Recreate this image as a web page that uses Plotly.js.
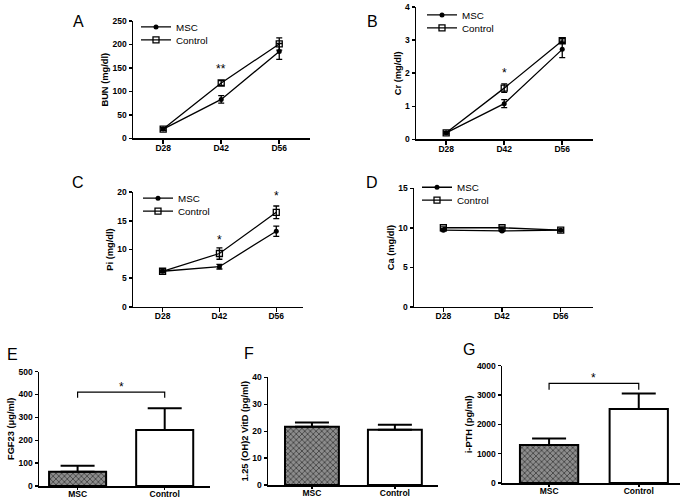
<!DOCTYPE html>
<html><head><meta charset="utf-8">
<script src="https://cdn.plot.ly/plotly-3.0.1.min.js"></script>
<style>html,body{margin:0;padding:0;background:#fff}#chart{width:685px;height:502px}</style>
</head><body><div id="chart"></div>
<script>
// ---- data ----
const days = ['D28', 'D42', 'D56'];
const groups = ['MSC', 'Control'];
// A: BUN
const bunMSC = [20, 83, 185], bunMSCErr = [3, 8, 17];
const bunCtl = [20, 118, 201], bunCtlErr = [3, 5, 13];
// B: Cr
const crMSC = [0.2, 1.08, 2.72], crMSCErr = [0.03, 0.12, 0.25];
const crCtl = [0.2, 1.55, 2.98], crCtlErr = [0.03, 0.13, 0.06];
// C: Pi
const piMSC = [6.2, 7.0, 13.2], piMSCErr = [0.2, 0.4, 0.9];
const piCtl = [6.2, 9.3, 16.5], piCtlErr = [0.2, 1.0, 1.1];
// D: Ca
const caMSC = [9.7, 9.6, 9.7], caMSCErr = [0.1, 0.1, 0.1];
const caCtl = [10.0, 10.0, 9.7], caCtlErr = [0.1, 0.1, 0.1];
// E-G: bars
const fgf23 = [62, 245], fgf23Err = [27, 95];
const vitD = [21.7, 20.6], vitDErr = [1.6, 1.8];
const pth = [1300, 2520], pthErr = [220, 530];

const W = 685, H = 502;
const FONT = 'Liberation Sans, Arial, sans-serif';
const px = v => v / W, py = v => 1 - v / H;

const traces = [];
function linePanel(n, msc, mscErr, ctl, ctlErr, legA, legB) {
  const xa = n === 1 ? 'x' : 'x' + n, ya = n === 1 ? 'y' : 'y' + n;
  const common = {
    x: days, xaxis: xa, yaxis: ya, type: 'scatter', mode: 'lines+markers',
    line: {color: '#000', width: 1.3}, showlegend: true
  };
  traces.push(Object.assign({}, common, {
    name: 'MSC', y: msc, legend: legA,
    error_y: {type: 'data', array: mscErr, visible: true, color: '#000', thickness: 1.3, width: 3},
    marker: {symbol: 'circle', size: 5, color: '#000'}
  }));
  traces.push(Object.assign({}, common, {
    name: 'Control', y: ctl, legend: legB,
    error_y: {type: 'data', array: ctlErr, visible: true, color: '#000', thickness: 1.3, width: 3},
    marker: {symbol: 'square-open', size: 6, color: '#000', line: {width: 1.3}}
  }));
}
function barPanel(n, vals, errs, bw) {
  const xa = 'x' + n, ya = 'y' + n;
  traces.push({
    type: 'bar', x: groups, y: vals, xaxis: xa, yaxis: ya, width: bw, showlegend: false,
    marker: {
      color: ['#8c8c8c', '#ffffff'],
      line: {color: '#000', width: 2},
      pattern: {shape: ['x', ''], size: 4, solidity: 0.4, fgcolor: '#303030', fgopacity: 1, fillmode: 'overlay'}
    },
    error_y: {type: 'data', symmetric: false, array: errs, arrayminus: [0, 0], visible: true, color: '#000', thickness: 2, width: 17}
  });
}

linePanel(1, bunMSC, bunMSCErr, bunCtl, bunCtlErr, 'legend', 'legend2');
linePanel(2, crMSC, crMSCErr, crCtl, crCtlErr, 'legend3', 'legend4');
linePanel(3, piMSC, piMSCErr, piCtl, piCtlErr, 'legend5', 'legend6');
linePanel(4, caMSC, caMSCErr, caCtl, caCtlErr, 'legend7', 'legend8');
barPanel(5, fgf23, fgf23Err, 0.655);
barPanel(6, vitD, vitDErr, 0.65);
barPanel(7, pth, pthErr, 0.65);

const tickFont = {family: FONT, size: 8.5, color: '#000', weight: 'bold'};
const titleFont = {family: FONT, size: 9.3, color: '#000', weight: 'bold'};
function xAx(l, r, ya, range, tl) {
  return {domain: [px(l), px(r)], anchor: ya, range: range, type: 'category',
    showgrid: false, zeroline: false, showline: true, linecolor: '#000', linewidth: 1.5,
    ticks: 'outside', ticklen: tl, tickwidth: 1.5, tickcolor: '#000', tickfont: tickFont,
    ticklabelstandoff: -3, fixedrange: true};
}
function yAx(t, b, xa, range, dtick, title) {
  return {domain: [py(b), py(t)], anchor: xa, range: range, dtick: dtick,
    showgrid: false, zeroline: false, showline: true, linecolor: '#000', linewidth: 1.5,
    ticks: 'outside', ticklen: 3, tickwidth: 1.5, tickcolor: '#000', tickfont: tickFont,
    title: {text: title, font: titleFont, standoff: 2}, fixedrange: true};
}
// legend placed so that the entry text starts at textX and is centred at cy
function legendAt(textX, cy) {
  return {x: px(textX - 40), y: py(cy), xanchor: 'left', yanchor: 'middle', bgcolor: 'rgba(0,0,0,0)',
    font: {family: FONT, size: 9.8, color: '#000'}, borderwidth: 0};
}
function letter(t, x, y) {
  return {text: t, xref: 'paper', yref: 'paper', x: px(x), y: py(y), xanchor: 'center', yanchor: 'middle',
    showarrow: false, font: {family: FONT, size: 16, color: '#000'}};
}
function star(t, xa, ya, x, y) {
  return {text: t, xref: xa, yref: ya, x: x, y: y, showarrow: false, yanchor: 'middle',
    font: {family: FONT, size: 12, color: '#000'}};
}

const layout = {
  width: W, height: H, margin: {l: 0, r: 0, t: 0, b: 0},
  paper_bgcolor: '#fff', plot_bgcolor: '#fff', font: {family: FONT, color: '#000'},
  xaxis: xAx(133, 310, 'y', [-0.52, 2.53], 4),
  yaxis: yAx(19, 137, 'x', [0, 250], 50, 'BUN (mg/dl)'),
  xaxis2: xAx(416, 593, 'y2', [-0.52, 2.53], 4),
  yaxis2: yAx(5, 138, 'x2', [0, 4], 1, 'Cr (mg/dl)'),
  xaxis3: xAx(133, 303, 'y3', [-0.52, 2.47], 4),
  yaxis3: yAx(191, 306, 'x3', [0, 20], 5, 'Pi (mg/dl)'),
  xaxis4: xAx(414, 593, 'y4', [-0.5, 2.55], 4),
  yaxis4: yAx(187, 306, 'x4', [0, 15], 5, 'Ca (mg/dl)'),
  xaxis5: xAx(39, 210, 'y5', [-0.443, 1.52], 2),
  yaxis5: yAx(371, 486, 'x5', [0, 500], 100, 'FGF23 (μg/ml)'),
  xaxis6: xAx(268, 438, 'y6', [-0.53, 1.52], 2),
  yaxis6: yAx(377, 485, 'x6', [0, 40], 10, '1.25 (OH)2 VitD (pg/ml)'),
  xaxis7: xAx(502, 680, 'y7', [-0.525, 1.46], 2),
  yaxis7: yAx(365, 483, 'x7', [0, 4000], 1000, 'i-PTH (pg/ml)'),
  legend: legendAt(176, 25), legend2: legendAt(176, 38),
  legend3: legendAt(462, 13), legend4: legendAt(462, 26),
  legend5: legendAt(178, 197), legend6: legendAt(178, 210),
  legend7: legendAt(457, 186), legend8: legendAt(457, 199),
  annotations: [
    letter('A', 78, 20), letter('B', 372, 20), letter('C', 78, 181), letter('D', 372, 181),
    letter('E', 12, 354), letter('F', 249, 353), letter('G', 469, 349),
    star('**', 'x', 'y', 'D42', 148),
    star('*', 'x2', 'y2', 'D42', 2.0),
    star('*', 'x3', 'y3', 'D42', 11.6),
    star('*', 'x3', 'y3', 'D56', 19.3),
    star('*', 'x5', 'y5', 0.5, 432),
    star('*', 'x7', 'y7', 0.5, 3560)
  ],
  shapes: [
    {type: 'path', xref: 'x5', yref: 'y5', path: 'M 0,385 L 0,410 L 1,410 L 1,385', line: {color: '#000', width: 1.2}},
    {type: 'path', xref: 'x7', yref: 'y7', path: 'M 0,3180 L 0,3390 L 1,3390 L 1,3180', line: {color: '#000', width: 1.2}}
  ]
};

Plotly.newPlot('chart', traces, layout, {displayModeBar: false, staticPlot: true});
</script></body></html>
